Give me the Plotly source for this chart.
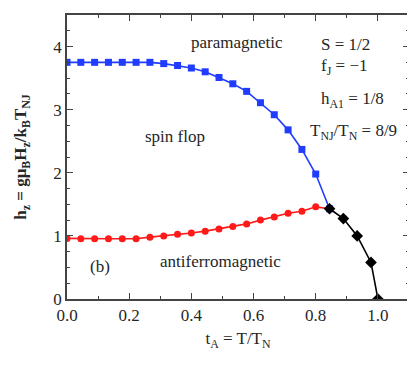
import plotly.graph_objects as go

# t values: i/22.5
t_grid = [i / 22.5 for i in range(20)]  # 0 .. 0.844
blue_h = [3.75, 3.75, 3.75, 3.75, 3.75, 3.75, 3.75, 3.73, 3.70, 3.66,
          3.60, 3.51, 3.41, 3.29, 3.11, 2.92, 2.68, 2.37, 1.98, 1.43]
red_h = [0.96, 0.955, 0.955, 0.955, 0.955, 0.955, 0.98, 1.00, 1.025, 1.045,
         1.075, 1.11, 1.15, 1.19, 1.25, 1.30, 1.36, 1.39, 1.46, 1.43]
black_t = [19 / 22.5, 20 / 22.5, 21 / 22.5, 22 / 22.5, 1.0]
black_h = [1.43, 1.275, 1.00, 0.58, 0.0]

x_tickvals = [0.0, 0.2, 0.4, 0.6, 0.8, 1.0]
x_ticktext = ["0.0", "0.2", "0.4", "0.6", "0.8", "1.0"]
y_tickvals = [0, 1, 2, 3, 4]
y_ticktext = ["0", "1", "2", "3", "4"]

FONT = "Liberation Serif"
TXT = "#262626"
AX = "#444444"

fig = go.Figure()
fig.add_trace(go.Scatter(
    x=t_grid, y=blue_h, mode="lines+markers",
    line=dict(color="#1f3cff", width=1.6),
    marker=dict(symbol="square", size=7, color="#1f3cff"),
    showlegend=False))
fig.add_trace(go.Scatter(
    x=t_grid, y=red_h, mode="lines+markers",
    line=dict(color="#ff1a1a", width=1.6),
    marker=dict(symbol="circle", size=7, color="#ff1a1a"),
    showlegend=False))
fig.add_trace(go.Scatter(
    x=black_t, y=black_h, mode="lines+markers",
    line=dict(color="black", width=1.6),
    marker=dict(symbol="diamond", size=9, color="black"),
    showlegend=False))

def ann(text, x, y, xanchor="center"):
    fig.add_annotation(x=x, y=y, xref="x", yref="y", text=text, showarrow=False,
                       xanchor=xanchor, yanchor="middle",
                       font=dict(family=FONT, size=17, color=TXT))

ann("paramagnetic", 0.548, 4.07)
ann("spin flop", 0.347, 2.58)
ann("antiferromagnetic", 0.493, 0.59)
ann("(b)", 0.106, 0.52)
ann("S = 1/2", 0.811, 4.03, "left")
ann("f<sub>J</sub> = \u22121", 0.811, 3.68, "left")
ann("h<sub>A1</sub> = 1/8", 0.811, 3.15, "left")
ann("T<sub>NJ</sub>/T<sub>N</sub> = 8/9", 0.774, 2.65, "left")

axis_common = dict(showline=True, linecolor=AX, linewidth=1.5, mirror="allticks",
                   ticks="inside", ticklen=6, tickwidth=1.2, tickcolor=AX,
                   showgrid=False, zeroline=False,
                   tickfont=dict(family=FONT, size=17, color=TXT))

fig.update_xaxes(range=[0, 1.1], tickvals=x_tickvals, ticktext=x_ticktext,
                 minor=dict(ticks="inside", dtick=0.1, tick0=0, ticklen=3.5,
                            tickwidth=1.2, tickcolor=AX, showgrid=False),
                 title=dict(text="t<sub>A</sub> = T/T<sub>N</sub>",
                            font=dict(family=FONT, size=17, color=TXT), standoff=8),
                 **axis_common)
fig.update_yaxes(range=[0, 4.5], tickvals=y_tickvals, ticktext=y_ticktext,
                 minor=dict(ticks="inside", dtick=0.25, tick0=0, ticklen=3.5,
                            tickwidth=1.2, tickcolor=AX, showgrid=False),
                 title=dict(text="<b>h<sub>z</sub> = gμ<sub>B</sub>H<sub>z</sub>/k<sub>B</sub>T<sub>NJ</sub></b>",
                            font=dict(family=FONT, size=17, color=TXT), standoff=22),
                 **axis_common)

# page body has an 8px margin; the figure is offset by (8, 8)
fig.update_layout(width=407, height=352,
                  margin=dict(l=59, r=4, t=7, b=61),
                  plot_bgcolor="white", paper_bgcolor="white",
                  font=dict(family=FONT, color=TXT))

fig.write_html("out.html")
